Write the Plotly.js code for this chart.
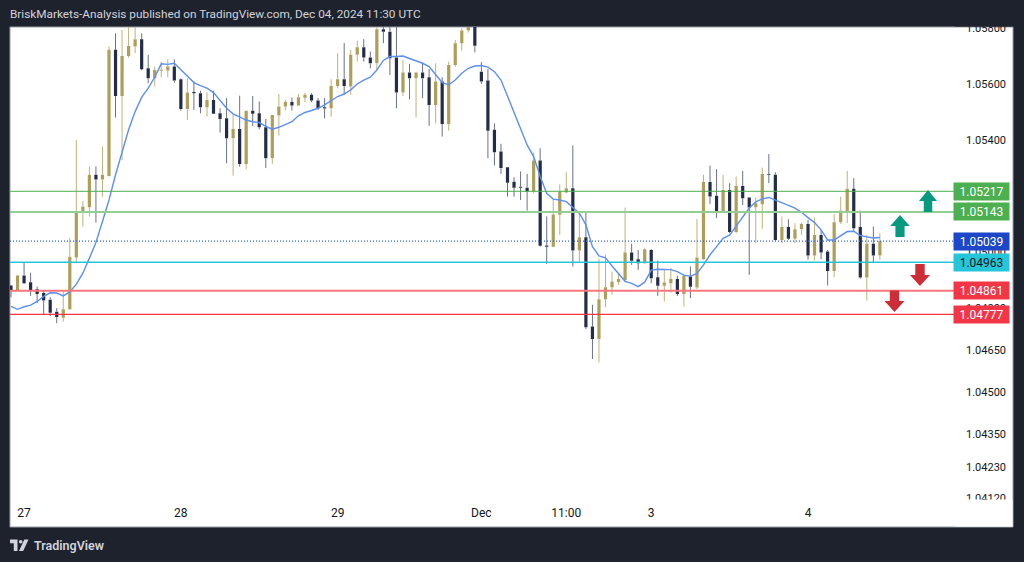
<!DOCTYPE html>
<html>
<head>
<meta charset="utf-8">
<script src="https://cdn.plot.ly/plotly-3.0.1.min.js"></script>
<style>
html,body{margin:0;padding:0;background:#1e222d;overflow:hidden;}
#chart{width:1024px;height:562px;}
</style>
</head>
<body>
<div id="chart"></div>
<script>
// ---- DATA (hourly candles, Nov 26 22:00 -> Dec 4 11:00) ----
const openP = [
1.04880,1.04862,1.04916,1.04892,1.04867,1.04853,1.04829,1.04786,1.04765,1.04795,
1.04980,1.05139,1.05160,1.05276,1.05259,1.05272,1.05723,1.05558,1.05701,1.05735,
1.05761,1.05657,1.05621,1.05648,1.05649,1.05663,1.05618,1.05511,1.05572,1.05568,
1.05518,1.05544,1.05496,1.05478,1.05407,1.05440,1.05315,1.05505,1.05496,1.05446,
1.05335,1.05488,1.05520,1.05536,1.05524,1.05552,1.05562,1.05542,1.05518,1.05514,
1.05594,1.05618,1.05592,1.05705,1.05732,1.05696,1.05675,1.05797,1.05788,1.05696,
1.05570,1.05642,1.05621,1.05642,1.05625,1.05526,1.05610,1.05458,1.05669,1.05747,
1.05792,1.05806,1.05645,1.05613,1.05437,1.05359,1.05303,1.05251,1.05233,1.05230,
1.05216,1.05327,1.05023,1.05019,1.05133,1.05213,1.05228,1.05005,1.05053,1.04733,
1.04689,1.04831,1.04874,1.04893,1.04900,1.04998,1.04974,1.04960,1.05007,1.04910,
1.04879,1.04888,1.04903,1.04850,1.04912,1.04873,1.04974,1.05250,1.05201,1.05139,
1.05222,1.05071,1.05236,1.05195,1.05160,1.05171,1.05279,1.05276,1.05043,1.05089,
1.05047,1.05081,1.05100,1.04987,1.05061,1.05002,1.04932,1.05106,1.05142,1.05226,
1.05089,1.04909,1.05029,1.04987];
const highP = [
1.04882,1.04918,1.04963,1.04926,1.04876,1.04864,1.04838,1.04799,1.04859,1.05049,
1.05401,1.05183,1.05306,1.05306,1.05377,1.05735,1.05782,1.05794,1.05820,1.05810,
1.05782,1.05705,1.05663,1.05681,1.05689,1.05689,1.05621,1.05621,1.05610,1.05577,
1.05571,1.05577,1.05514,1.05550,1.05493,1.05559,1.05505,1.05558,1.05538,1.05476,
1.05490,1.05565,1.05544,1.05552,1.05565,1.05568,1.05568,1.05550,1.05550,1.05618,
1.05711,1.05747,1.05723,1.05756,1.05761,1.05717,1.05806,1.05808,1.05820,1.05810,
1.05687,1.05673,1.05642,1.05677,1.05654,1.05675,1.05625,1.05681,1.05758,1.05800,
1.05830,1.05830,1.05679,1.05654,1.05460,1.05387,1.05303,1.05267,1.05288,1.05279,
1.05356,1.05371,1.05127,1.05189,1.05242,1.05285,1.05381,1.05142,1.05142,1.04811,
1.04975,1.04990,1.04930,1.04924,1.05159,1.05029,1.05007,1.05013,1.05010,1.04969,
1.04936,1.04942,1.04915,1.04918,1.04948,1.05118,1.05276,1.05309,1.05296,1.05276,
1.05246,1.05270,1.05290,1.05195,1.05195,1.05302,1.05350,1.05285,1.05127,1.05117,
1.05103,1.05105,1.05115,1.05123,1.05079,1.05007,1.05135,1.05198,1.05290,1.05264,
1.05148,1.05061,1.05091,1.05067];
const lowP = [
1.04838,1.04860,1.04885,1.04843,1.04817,1.04777,1.04771,1.04745,1.04751,1.04793,
1.04960,1.05091,1.05127,1.05105,1.05198,1.05270,1.05481,1.05329,1.05695,1.05711,
1.05650,1.05604,1.05592,1.05625,1.05625,1.05606,1.05506,1.05472,1.05508,1.05496,
1.05484,1.05494,1.05427,1.05317,1.05273,1.05305,1.05296,1.05451,1.05439,1.05300,
1.05315,1.05416,1.05506,1.05506,1.05523,1.05536,1.05536,1.05508,1.05478,1.05484,
1.05586,1.05562,1.05562,1.05681,1.05681,1.05657,1.05651,1.05747,1.05633,1.05514,
1.05558,1.05546,1.05481,1.05550,1.05451,1.05460,1.05413,1.05434,1.05663,1.05720,
1.05785,1.05714,1.05601,1.05335,1.05309,1.05279,1.05198,1.05198,1.05186,1.05148,
1.05210,1.05019,1.04957,1.05017,1.05061,1.05210,1.04948,1.04963,1.04724,1.04617,
1.04605,1.04802,1.04847,1.04882,1.04894,1.04954,1.04936,1.04958,1.04888,1.04843,
1.04823,1.04855,1.04843,1.04805,1.04835,1.04867,1.04972,1.05171,1.05121,1.05139,
1.05067,1.05067,1.05168,1.04918,1.05031,1.05083,1.05246,1.05040,1.05031,1.05043,
1.05031,1.05061,1.04972,1.04969,1.04974,1.04880,1.04910,1.05100,1.05103,1.05073,
1.04904,1.04826,1.04960,1.04972];
const closeP = [
1.04862,1.04916,1.04888,1.04864,1.04850,1.04826,1.04783,1.04767,1.04795,1.04983,
1.05143,1.05163,1.05276,1.05259,1.05276,1.05723,1.05558,1.05701,1.05737,1.05761,
1.05654,1.05621,1.05651,1.05652,1.05663,1.05613,1.05511,1.05570,1.05568,1.05518,
1.05544,1.05494,1.05476,1.05407,1.05440,1.05315,1.05505,1.05494,1.05446,1.05335,
1.05490,1.05520,1.05536,1.05524,1.05553,1.05562,1.05542,1.05514,1.05513,1.05594,
1.05618,1.05594,1.05705,1.05732,1.05696,1.05675,1.05797,1.05788,1.05693,1.05570,
1.05642,1.05621,1.05642,1.05621,1.05526,1.05610,1.05458,1.05669,1.05747,1.05792,
1.05806,1.05738,1.05610,1.05434,1.05357,1.05300,1.05248,1.05230,1.05230,1.05216,
1.05327,1.05022,1.05019,1.05134,1.05216,1.05228,1.05005,1.05053,1.04731,1.04689,
1.04831,1.04874,1.04894,1.04903,1.04998,1.04969,1.04960,1.05010,1.04906,1.04879,
1.04891,1.04903,1.04850,1.04915,1.04876,1.04980,1.05250,1.05198,1.05142,1.05222,
1.05071,1.05236,1.05192,1.05159,1.05174,1.05279,1.05276,1.05043,1.05089,1.05047,
1.05081,1.05100,1.04987,1.05061,1.04998,1.04932,1.05106,1.05148,1.05226,1.05085,
1.04909,1.05029,1.04987,1.05039];
const movingAvg = [
1.04805,1.04795,1.04804,1.04810,1.04823,1.04841,1.04854,1.04853,1.04843,1.04857,
1.04885,1.04924,1.04978,1.05034,1.05109,1.05186,1.05276,1.05359,1.05437,1.05502,
1.05553,1.05586,1.05625,1.05673,1.05671,1.05675,1.05651,1.05627,1.05606,1.05595,
1.05586,1.05570,1.05540,1.05514,1.05494,1.05482,1.05472,1.05466,1.05463,1.05449,
1.05439,1.05446,1.05457,1.05466,1.05487,1.05499,1.05506,1.05514,1.05526,1.05540,
1.05556,1.05565,1.05580,1.05601,1.05615,1.05625,1.05651,1.05685,1.05699,1.05699,
1.05701,1.05692,1.05683,1.05675,1.05663,1.05633,1.05606,1.05598,1.05615,1.05639,
1.05657,1.05665,1.05667,1.05661,1.05645,1.05615,1.05556,1.05499,1.05443,1.05383,
1.05341,1.05270,1.05210,1.05189,1.05186,1.05180,1.05159,1.05139,1.05097,1.05019,
1.04986,1.04979,1.04950,1.04921,1.04895,1.04888,1.04876,1.04892,1.04935,1.04938,
1.04938,1.04937,1.04930,1.04917,1.04913,1.04923,1.04954,1.04990,1.05019,1.05049,
1.05060,1.05093,1.05124,1.05157,1.05179,1.05190,1.05195,1.05186,1.05178,1.05167,
1.05157,1.05142,1.05123,1.05105,1.05079,1.05043,1.05043,1.05058,1.05073,1.05074,
1.05059,1.05054,1.05050,1.05052];

const levelValues = [1.05217, 1.05143, 1.05039, 1.04963, 1.04861, 1.04777];
const priceTicks = [1.058, 1.056, 1.054, 1.050, 1.048, 1.0465, 1.045, 1.0435, 1.0423, 1.0412];
const timeTickPos = [2, 26, 50, 72, 85, 98, 122];
const timeTickText = ['27', '28', '29', 'Dec', '11:00', '3', '4'];
const headerText = 'BriskMarkets-Analysis published on TradingView.com, Dec 04, 2024 11:30 UTC';
const footerText = 'TradingView';

// ---- STYLES ----
const FONT = 'Roboto, "Liberation Sans", sans-serif';
const BG = '#1e222d';
const upBody = '#ad9e59', dnBody = '#242d48';
const upWick = '#bfb27a', dnWick = '#6a7188';
const levelStyles = [
  {color:'#4caf50', width:1,   dash:'solid', badge:'#4caf50', text:'#ffffff'},
  {color:'#93cf95', width:2,   dash:'solid', badge:'#4caf50', text:'#ffffff'},
  {color:'#2962ff', width:1.2, dash:'1px,2px', badge:'#1c47c8', text:'#ffffff'},
  {color:'#26c6da', width:1.5, dash:'solid', badge:'#26c6da', text:'#131722'},
  {color:'#f6767d', width:2,   dash:'solid', badge:'#f23645', text:'#ffffff'},
  {color:'#f23645', width:1.2, dash:'solid', badge:'#f23645', text:'#ffffff'}
];

// plot geometry (pixels)
const PL = 10, PR = 954, PT = 27, PB = 501;
const px2x = p => (p - PL) / (PR - PL);
const py2y = p => (PB - p) / (PB - PT);

const idx = openP.map((_, i) => i);

// wick segments outside bodies
function wicks(up) {
  const xs = [], ys = [];
  idx.forEach(i => {
    const isUp = closeP[i] >= openP[i];
    if (isUp !== up) return;
    const top = Math.max(openP[i], closeP[i]);
    const bot = Math.min(openP[i], closeP[i]);
    xs.push(i, i, null, i, i, null);
    ys.push(highP[i], top, null, bot, lowP[i], null);
  });
  return {x: xs, y: ys};
}
const wu = wicks(true), wd = wicks(false);

const traces = [
  {type:'scatter', mode:'lines', x: wu.x, y: wu.y, line:{color:upWick, width:1}, hoverinfo:'skip', showlegend:false, connectgaps:false},
  {type:'scatter', mode:'lines', x: wd.x, y: wd.y, line:{color:dnWick, width:1}, hoverinfo:'skip', showlegend:false, connectgaps:false},
  {type:'candlestick', x: idx, open: openP, high: highP, low: lowP, close: closeP,
   increasing:{fillcolor: upBody, line:{color: upBody, width: 0}},
   decreasing:{fillcolor: dnBody, line:{color: dnBody, width: 0}},
   whiskerwidth: 0, hoverinfo:'skip', showlegend:false},
  {type:'scatter', mode:'lines', x: idx, y: movingAvg, line:{color:'#5e8ff4', width:1.4}, hoverinfo:'skip', showlegend:false}
];

const shapes = [];
// white chart panel with thin border
shapes.push({type:'rect', xref:'paper', yref:'paper', x0:px2x(10), x1:px2x(1013), y0:py2y(527), y1:py2y(27),
  fillcolor:'#ffffff', line:{color:'#9a9da6', width:1}, layer:'below'});
// level lines
levelValues.forEach((v, i) => {
  const s = levelStyles[i];
  shapes.push({type:'line', xref:'paper', yref:'y', x0:0, x1:1, y0:v, y1:v,
    line:{color:s.color, width:s.width, dash:s.dash}, layer:'above'});
});
// clip tick labels that overflow the pane
shapes.push({type:'rect', xref:'paper', yref:'paper', x0:px2x(955), x1:px2x(1012.5), y0:py2y(26.5), y1:py2y(0),
  fillcolor:BG, line:{width:0}, layer:'above'});
shapes.push({type:'rect', xref:'paper', yref:'paper', x0:px2x(955), x1:px2x(1012.4), y0:py2y(526.4), y1:py2y(499.5),
  fillcolor:'#ffffff', line:{width:0}, layer:'above'});

// arrows (pixel geometry -> paper coords)
function arrowPath(cx, top, bottom, w, stemW, headH, up) {
  const hw = w / 2, sw = stemW / 2;
  let pts;
  if (up) {
    const hb = top + headH;
    pts = [[cx, top], [cx + hw, hb], [cx + sw, hb], [cx + sw, bottom], [cx - sw, bottom], [cx - sw, hb], [cx - hw, hb]];
  } else {
    const hb = bottom - headH;
    pts = [[cx, bottom], [cx + hw, hb], [cx + sw, hb], [cx + sw, top], [cx - sw, top], [cx - sw, hb], [cx - hw, hb]];
  }
  return 'M' + pts.map(p => px2x(p[0]).toFixed(5) + ',' + py2y(p[1]).toFixed(5)).join(' L') + ' Z';
}
const arrowSpecs = [
  {cx:928, top:190, bottom:212, w:18, up:true,  color:'#089981'},
  {cx:900, top:215, bottom:237, w:19.5, up:true, color:'#089981'},
  {cx:920, top:264, bottom:286, w:20, up:false, color:'#cd2d37'},
  {cx:894.5, top:290.5, bottom:312, w:20, up:false, color:'#cd2d37'}
];
arrowSpecs.forEach(a => {
  shapes.push({type:'path', xref:'paper', yref:'paper', path: arrowPath(a.cx, a.top, a.bottom, a.w, a.w*0.47, 11, a.up),
    fillcolor:a.color, line:{width:0}, layer:'above'});
});

// TradingView logo (footer)
const logoPaths = [
  [[10,539.5],[17.5,539.5],[17.5,551],[13.8,551],[13.8,543.3],[10,543.3]],
  [[19,551],[24.3,539.5],[28.5,539.5],[23.2,551]]
];
logoPaths.forEach(pp => {
  shapes.push({type:'path', xref:'paper', yref:'paper',
    path:'M' + pp.map(p => px2x(p[0]).toFixed(5) + ',' + py2y(p[1]).toFixed(5)).join(' L') + ' Z',
    fillcolor:'#d1d4dc', line:{width:0}, layer:'above'});
});
shapes.push({type:'circle', xref:'paper', yref:'paper', x0:px2x(18.9), x1:px2x(22.5), y0:py2y(543.6), y1:py2y(540),
  fillcolor:'#d1d4dc', line:{width:0}, layer:'above'});

const annotations = [];
levelValues.forEach((v, i) => {
  const s = levelStyles[i];
  annotations.push({xref:'paper', yref:'y', x:px2x(981.7), y:v, xanchor:'center', yanchor:'middle',
    text: v.toFixed(5), showarrow:false, bgcolor:s.badge, borderpad:2, width:51, height:13,
    font:{family:FONT, size:12, color:s.text}});
});
annotations.push({xref:'paper', yref:'paper', x:px2x(32), y:py2y(545), xanchor:'left', yanchor:'middle',
  text: footerText, showarrow:false, font:{family:FONT, size:12.5, color:'#d1d4dc', weight:600}});

const layout = {
  width:1024, height:562,
  margin:{l:PL, r:1024-PR, t:PT, b:562-PB, pad:0},
  paper_bgcolor:BG, plot_bgcolor:'#ffffff',
  showlegend:false, hovermode:false,
  title:{text: headerText, x:10/1024, xref:'container', xanchor:'left', y:1-14/562, yref:'container', yanchor:'middle',
    font:{family:FONT, size:11.8, color:'#d1d4dc'}},
  xaxis:{type:'linear', range:[(PL-11)/6.533, (PR-11)/6.533], showgrid:false, zeroline:false, showline:false,
    tickmode:'array', tickvals: timeTickPos, ticktext: timeTickText, ticks:'', ticklabelstandoff:3,
    tickfont:{family:FONT, size:12, color:'#131722'}, rangeslider:{visible:false}, fixedrange:true},
  yaxis:{side:'right', range:[1.041092, 1.058047], showgrid:false, zeroline:false, showline:false,
    tickmode:'array', tickvals: priceTicks, ticktext: priceTicks.map(v => v.toFixed(5)), ticks:'',
    ticklabelstandoff:11, tickfont:{family:FONT, size:11, color:'#131722'}, fixedrange:true},
  shapes: shapes,
  annotations: annotations
};

Plotly.newPlot('chart', traces, layout, {staticPlot:true, displayModeBar:false});
</script>
</body>
</html>
